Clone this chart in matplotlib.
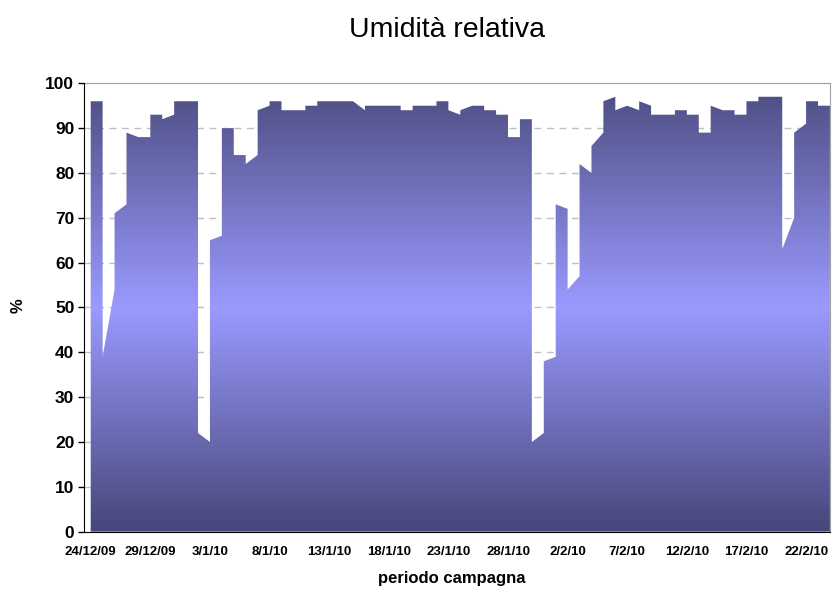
import datetime as dt
import numpy as np
import matplotlib.pyplot as plt
from matplotlib.colors import LinearSegmentedColormap

plt.rcParams['font.family'] = ['Liberation Sans', 'DejaVu Sans']

start = dt.date(2009, 12, 24)

# relative humidity (%), first and last reading of each day, day 0 = 24/12/09
rh_first = [96, 96, 54, 73, 88, 88, 93, 93, 96, 96,
            20, 66, 90, 84, 84, 95, 96, 94, 94, 95,
            96, 96, 96, 94, 95, 95, 95, 94, 95, 95,
            96, 93, 95, 95, 94, 93, 88, 92, 22, 39,
            72, 57, 80, 89, 97, 95, 94, 95, 93, 93,
            94, 93, 89, 94, 94, 93, 96, 97, 97, 70,
            91, 96, 95]
rh_last = [96, 39, 71, 89, 88, 93, 92, 96, 96, 22,
           65, 90, 84, 82, 94, 96, 94, 94, 95, 96,
           96, 96, 96, 95, 95, 95, 94, 95, 95, 96,
           94, 94, 95, 94, 93, 88, 92, 20, 38, 73,
           54, 82, 86, 96, 94, 95, 96, 93, 93, 94,
           93, 89, 95, 94, 93, 96, 97, 97, 63, 89,
           96, 95, 95]

tick_days = list(range(0, 61, 5))
tick_labels = []
for d in tick_days:
    t = start + dt.timedelta(days=d)
    tick_labels.append(f"{t.day}/{t.month}/{t.year % 100:02d}")

days = np.arange(len(rh_first))
x = np.repeat(days, 2)
y = np.column_stack([rh_first, rh_last]).ravel()

fig = plt.figure(figsize=(8.32, 5.93), dpi=100)
ax = fig.add_axes([0.101, 0.1035, 0.8965, 0.756])
x0, x1 = -0.56, 62
ax.set_xlim(x0, x1)
ax.set_ylim(0, 100)

# area with a vertical gradient (dark - light - dark)
area = ax.fill_between(x, 0, y, color='none', lw=0, zorder=2)
cmap = LinearSegmentedColormap.from_list('rh', ['#46467a', '#9a9aff', '#4c4c80'])
grad = np.linspace(0, 1, 256).reshape(-1, 1)
img = ax.imshow(grad, cmap=cmap, aspect='auto', extent=[x0, x1, 0, 100],
                origin='lower', zorder=2, interpolation='bilinear')
img.set_clip_path(area.get_paths()[0], transform=ax.transData)

for v in range(10, 100, 10):
    ax.axhline(v, color='#c0c0c0', lw=1, ls=(0, (5, 4)), zorder=1)

for s in ['top', 'right']:
    ax.spines[s].set_color('#a0a0a0')
for s in ['left', 'bottom']:
    ax.spines[s].set_color('black')
    ax.spines[s].set_zorder(3)

ax.set_yticks(range(0, 101, 10))
ax.tick_params(axis='y', direction='out', length=4, width=1, pad=3, labelsize=12.5)
ax.set_xticks(tick_days)
ax.set_xticklabels(tick_labels)
ax.tick_params(axis='x', length=0, pad=10, labelsize=9.5)
for lbl in ax.get_yticklabels() + ax.get_xticklabels():
    lbl.set_fontweight('bold')

fig.text(447 / 832, 1 - 30 / 593, 'Umidità relativa', ha='center', va='center', fontsize=20.5)
fig.text(18 / 832, 1 - 306 / 593, '%', rotation=90, ha='center', va='center',
         fontsize=12, fontweight='bold')
fig.text(452 / 832, 1 - 579 / 593, 'periodo campagna', ha='center', va='center',
         fontsize=12, fontweight='bold')

fig.savefig('out.png', dpi=100)
